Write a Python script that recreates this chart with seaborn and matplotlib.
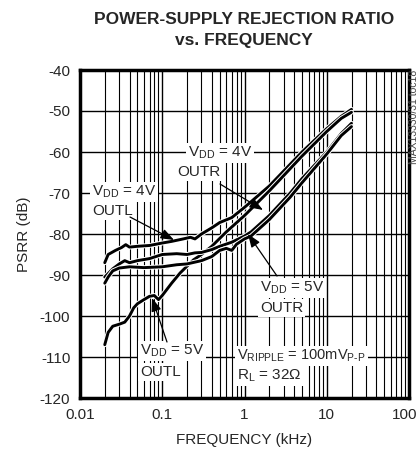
import numpy as np
import pandas as pd
import matplotlib
matplotlib.use("Agg")
import matplotlib.pyplot as plt
import matplotlib.patheffects as pe
from matplotlib.ticker import LogLocator, NullFormatter, FixedLocator
from matplotlib.transforms import ScaledTranslation
import seaborn as sns

# curve data (kHz, dB)
f_4v_outl = [0.02, 0.022, 0.027, 0.032, 0.036, 0.04, 0.05, 0.07, 0.1, 0.13, 0.18, 0.22,
             0.25, 0.3, 0.4, 0.5, 0.7, 1, 2, 5, 10, 15, 20]
p_4v_outl = [-87, -85, -84, -83.3, -82.6, -83.2, -83, -82.8, -82.2, -81.8, -81.2, -80.8,
             -81.2, -80, -78.5, -77.2, -76, -73.5, -68.3, -60, -54.3, -51.3, -49.6]

f_5v_outl = [0.02, 0.022, 0.025, 0.03, 0.035, 0.04, 0.045, 0.05, 0.06, 0.07, 0.08, 0.09,
             0.1, 0.13, 0.165, 0.24, 0.3, 0.4, 0.6, 1, 2, 5, 10, 15, 20]
p_5v_outl = [-107, -104, -102.5, -102, -101.5, -100, -98, -97, -96, -95.2, -95, -96,
             -95, -92, -89.5, -86.3, -85, -83, -79.5, -75.5, -69.5, -61, -55, -51.8, -50.3]

f_4v_outr = [0.02, 0.025, 0.03, 0.035, 0.04, 0.05, 0.07, 0.1, 0.15, 0.2, 0.25, 0.3,
             0.4, 0.5, 0.7, 1, 1.2, 2, 3.6, 5, 10, 15, 20]
p_4v_outr = [-90.5, -88.5, -87.3, -86.5, -87, -86.5, -86, -85, -84.8, -85, -84.6, -84.5,
             -83.8, -83, -82, -80.5, -79.5, -75.5, -70, -66.5, -60, -55.5, -53]

f_5v_outr = [0.02, 0.022, 0.025, 0.03, 0.04, 0.06, 0.1, 0.15, 0.2, 0.3, 0.4, 0.5, 0.6,
             0.7, 0.8, 1, 1.2, 2, 3.6, 5, 10, 15, 20]
p_5v_outr = [-92, -90.5, -89, -88.3, -88, -88.2, -88, -87.5, -87.3, -86.5, -85.5, -84,
             -83.5, -84, -82.5, -81.2, -80.5, -76.5, -71, -67.5, -60.5, -56, -53.8]

x_ticks = [0.01, 0.1, 1, 10, 100]
x_tick_labels = ["0.01", "0.1", "1", "10", "100"]
y_ticks = [-120, -110, -100, -90, -80, -70, -60, -50, -40]

curves = {
    "4V OUTL": (f_4v_outl, p_4v_outl),
    "5V OUTL": (f_5v_outl, p_5v_outl),
    "4V OUTR": (f_4v_outr, p_4v_outr),
    "5V OUTR": (f_5v_outr, p_5v_outr),
}
frames = [pd.DataFrame({"f": f, "psrr": p, "curve": k}) for k, (f, p) in curves.items()]
df = pd.concat(frames, ignore_index=True)

sns.set_style("white")
plt.rcParams["font.family"] = ["Liberation Sans", "DejaVu Sans"]
plt.rcParams["mathtext.fontset"] = "custom"
plt.rcParams["mathtext.rm"] = "Liberation Sans"

fig = plt.figure(figsize=(4.2, 4.62), dpi=100)
ax = fig.add_axes([80 / 420, 1 - 398 / 462, 329 / 420, 328 / 462])

sns.lineplot(data=df, x="f", y="psrr", hue="curve", units="curve", estimator=None,
             palette=["black"] * 4, linewidth=2.1, legend=False, sort=False, ax=ax)
for ln in ax.get_lines():
    ln.set_path_effects([pe.Stroke(linewidth=3.5, foreground="white"), pe.Normal()])
    ln.set_zorder(3)

ax.set_xscale("log")
ax.set_xlim(0.01, 100)
ax.set_ylim(-120, -40)
ax.xaxis.set_major_locator(FixedLocator(x_ticks))
ax.set_xticklabels(x_tick_labels)
ax.xaxis.set_minor_locator(LogLocator(base=10, subs=np.arange(2, 10)))
ax.xaxis.set_minor_formatter(NullFormatter())
ax.set_yticks(y_ticks)
ax.set_yticklabels([str(v) for v in y_ticks])
ax.grid(which="major", color="black", linewidth=1.0)
ax.grid(which="minor", axis="x", color="black", linewidth=0.8)
ax.set_axisbelow(True)
ax.tick_params(which="both", length=0, labelsize=11, pad=7)
for s in ax.spines.values():
    s.set_linewidth(2.5)
    s.set_color("black")

# nudge the last x label so it stays inside the figure
last = ax.get_xticklabels()[-1]
last.set_transform(last.get_transform() + ScaledTranslation(-4 / 100, 0, fig.dpi_scale_trans))

ax.set_xlabel("FREQUENCY (kHz)", fontsize=11, labelpad=8)
ax.set_ylabel("PSRR (dB)", fontsize=11, labelpad=6)

fig.text(244 / 420, 1 - 30 / 462, "POWER-SUPPLY REJECTION RATIO\nvs. FREQUENCY",
         ha="center", va="center", fontsize=12.5, fontweight="bold", linespacing=1.55)
fig.text(414 / 420, 1 - 70 / 462, "MAX13330/31 toc18", rotation=90, ha="center",
         va="top", fontsize=7.5, color="#444444")

box = dict(facecolor="white", edgecolor="none", pad=1.5)


def label(px, py, s, size=11):
    # place text by pixel position of its left edge / vertical center
    ax.text(px / 420, 1 - py / 462, s, transform=fig.transFigure, ha="left",
            va="center", fontsize=size, bbox=box, zorder=5)


def arrow(x0, y0, x1, y1):
    ax.annotate("", xy=(x1 / 420, 1 - y1 / 462), xycoords=fig.transFigure,
                xytext=(x0 / 420, 1 - y0 / 462), textcoords=fig.transFigure,
                arrowprops=dict(arrowstyle="-|>,head_length=0.8,head_width=0.3",
                                color="black", lw=0.9, shrinkA=0, shrinkB=0),
                zorder=6)


label(188, 153, r"V$_{\mathrm{DD}}$ = 4V")
label(177, 172, "OUTR")
label(92, 192, r"V$_{\mathrm{DD}}$ = 4V")
label(92, 211, "OUTL")
label(260, 288, r"V$_{\mathrm{DD}}$ = 5V")
label(260, 308, "OUTR")
label(140, 351, r"V$_{\mathrm{DD}}$ = 5V")
label(140, 372, "OUTL")
label(237, 356, r"V$_{\mathrm{RIPPLE}}$ = 100mV$_{\mathrm{P\text{-}P}}$", size=10.5)
label(237, 376, r"R$_{\mathrm{L}}$ = 32$\Omega$")

arrow(220, 184, 263, 210)
arrow(130, 217, 174, 240)
arrow(277, 276, 248, 234)
arrow(167, 342, 152, 298)

fig.savefig("out.png", dpi=100)
